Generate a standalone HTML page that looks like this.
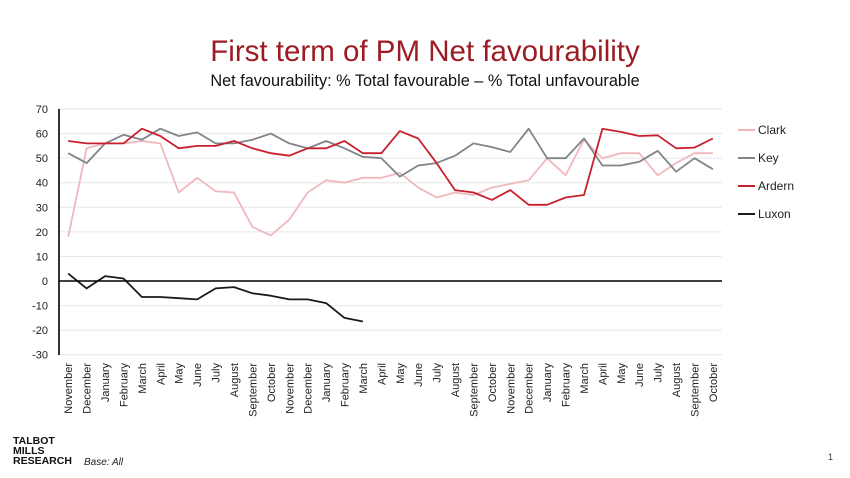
<!DOCTYPE html>
<html><head><meta charset="utf-8"><style>
html,body{margin:0;padding:0;background:#fff;width:850px;height:478px;overflow:hidden}
svg{display:block;font-family:"Liberation Sans",sans-serif}
</style></head><body>
<svg id="s" width="850" height="478" viewBox="0 0 850 478">
<text x="425" y="61" text-anchor="middle" font-size="29.5" fill="#9b1c24">First term of PM Net favourability</text>
<text x="425" y="86" text-anchor="middle" font-size="16.3" fill="#111">Net favourability: % Total favourable – % Total unfavourable</text>
<g id="g"></g>
<text x="13" y="444" font-size="10.5" font-weight="bold" fill="#111">TALBOT</text>
<text x="13" y="454" font-size="10.5" font-weight="bold" fill="#111">MILLS</text>
<text x="13" y="464" font-size="10.5" font-weight="bold" fill="#111">RESEARCH</text>
<text x="84" y="465" font-size="10" font-style="italic" fill="#222">Base: All</text>
<text x="828" y="460" font-size="9" fill="#333">1</text>
</svg>
<script>
var g=document.getElementById('g'),h='';
function Y(v){return 281-v*2.457;}
function X(i){return 59+18.42*(i+0.5);}
for(var v=-30;v<=70;v+=10){
 if(v!=0)h+='<line x1="59" x2="722" y1="'+Y(v)+'" y2="'+Y(v)+'" stroke="#e6e6e6" stroke-width="1"/>';
 h+='<text x="48" y="'+(Y(v)+4)+'" text-anchor="end" font-size="11" fill="#222">'+v+'</text>';
}
var m=["November","December","January","February","March","April","May","June","July","August","September","October"];
for(var i=0;i<36;i++){var x=X(i)+4;h+='<text transform="translate('+x+',363) rotate(-90)" text-anchor="end" font-size="11" fill="#222">'+m[i%12]+'</text>';}
var S=[
["#f0b8bc",[18,54,56,56,57,56,36,42,36.5,36,22,18.5,25,36,41,40,42,42,44,38,34,36,35,38,39.5,41,50,43,57.5,50,52,52,43,48,52,52]],
["#80858a",[52,48,56,59.5,57.5,62,59,60.5,56,56,57.5,60,56,54,57,54,50.5,50,42.5,47,48,51,56,54.5,52.5,62,50,50,58,47,47,48.5,53,44.5,50,45.5]],
["#c8202e",[57,56,56,56,62,59,54,55,55,57,54,52,51,54,54,57,52,52,61,58,48,37,36,33,37,31,31,34,35,62,60.7,59,59.3,54,54.3,58]],
["#1a1a1a",[3,-3,2,1,-6.5,-6.5,-7,-7.5,-3,-2.5,-5,-6,-7.5,-7.5,-9,-15,-16.5]]];
S.forEach(function(s){var p=s[1].map(function(v,i){return X(i).toFixed(1)+','+Y(v).toFixed(1)}).join(' ');
h+='<polyline points="'+p+'" fill="none" stroke="'+s[0]+'" stroke-width="1.8" stroke-linejoin="round"/>';});
h+='<line x1="59" x2="722" y1="281" y2="281" stroke="#000" stroke-width="1.6"/>';
h+='<line x1="59" x2="59" y1="109" y2="355" stroke="#000" stroke-width="1.6"/>';
var L=["Clark","Key","Ardern","Luxon"];
for(var k=0;k<4;k++){var y=130+28*k;h+='<line x1="738" x2="755" y1="'+y+'" y2="'+y+'" stroke="'+S[k][0]+'" stroke-width="2"/><text x="758" y="'+(y+4)+'" font-size="12" fill="#222">'+L[k]+'</text>';}
g.innerHTML=h;
</script>
</body></html>
